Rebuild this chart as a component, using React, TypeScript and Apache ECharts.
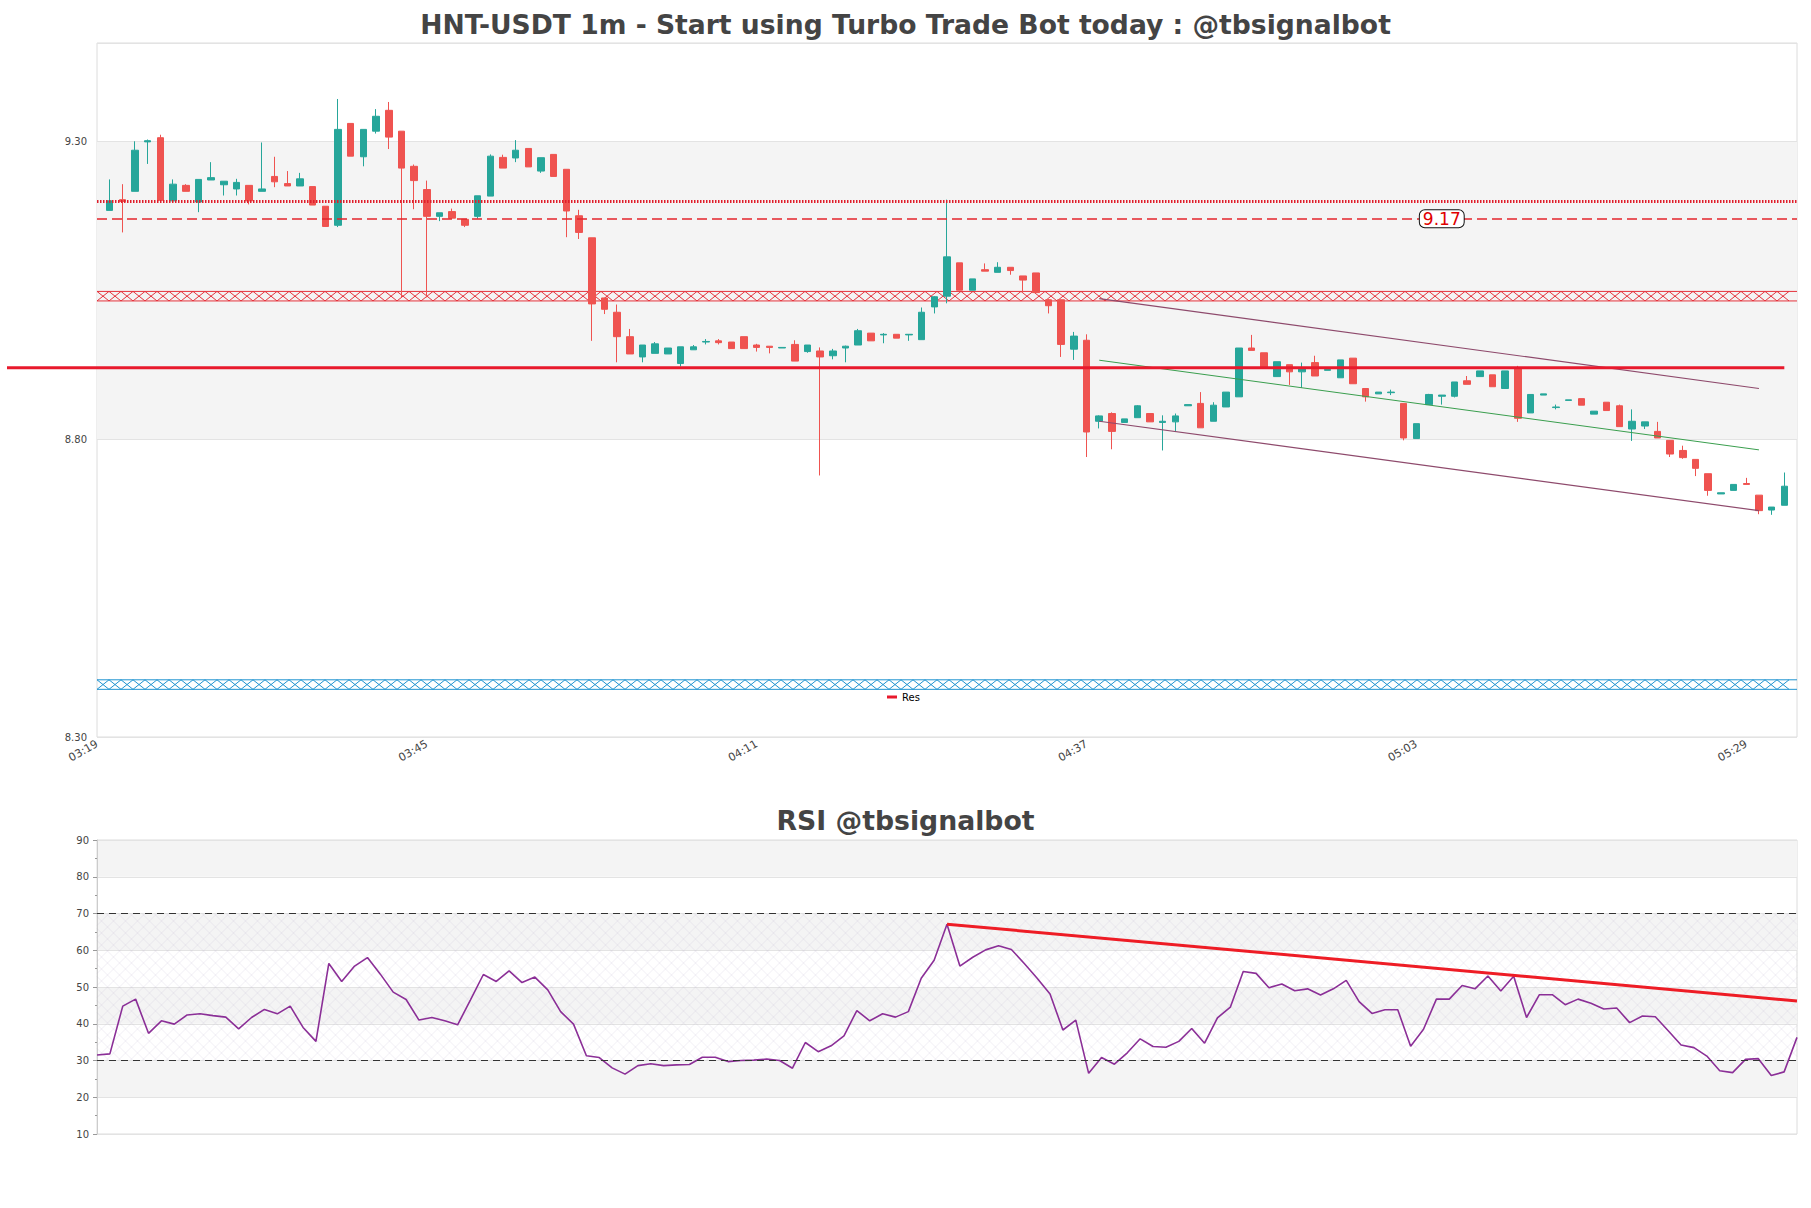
import React, { useEffect, useRef } from "react";
import * as echarts from "echarts";

// ---------- texts ----------
const mainTitle = "HNT-USDT 1m - Start using Turbo Trade Bot today : @tbsignalbot";
const rsiTitle = "RSI @tbsignalbot";
const legendName = "Res";

// ---------- categories ----------
function minuteLabels(h: number, m: number, count: number): string[] {
  const out: string[] = [];
  for (let k = 0; k < count; k++) {
    const t = h * 60 + m + k;
    const hh = Math.floor(t / 60);
    const mm = t % 60;
    out.push(String(hh).padStart(2, "0") + ":" + String(mm).padStart(2, "0"));
  }
  return out;
}
const axisTimes = minuteLabels(3, 19, 135); // 03:19 .. 05:33 (axis span)
const candleTimes = axisTimes.slice(1, 134); // 03:20 .. 05:32 (candles / RSI)
const xTickLabels = ["03:19", "03:45", "04:11", "04:37", "05:03", "05:29"];
const priceTickLabels = [8.3, 8.8, 9.3];

// ---------- candles (03:20 .. 05:32) ----------
const opens = [
  9.184, 9.202, 9.216, 9.299, 9.306, 9.2, 9.226, 9.198, 9.235, 9.227,
  9.22, 9.226, 9.216, 9.241, 9.229, 9.225, 9.224, 9.191, 9.159, 9.33,
  9.274, 9.317, 9.352, 9.317, 9.258, 9.219, 9.174, 9.182, 9.169, 9.174,
  9.208, 9.273, 9.272, 9.288, 9.25, 9.278, 9.253, 9.175, 9.138, 9.037,
  9.013, 8.972, 8.938, 8.944, 8.943, 8.927, 8.95, 8.963, 8.965, 8.963,
  8.972, 8.958, 8.956, 8.953, 8.959, 8.947, 8.948, 8.94, 8.953, 8.958,
  8.978, 8.975, 8.976, 8.975, 8.967, 9.022, 9.04, 9.096, 9.05, 9.0845,
  9.08, 9.0885, 9.074, 9.079, 9.034, 9.034, 8.951, 8.966, 8.83, 8.843,
  8.828, 8.836, 8.843, 8.828, 8.829, 8.856, 8.86, 8.83, 8.854, 8.871,
  8.953, 8.945, 8.905, 8.925, 8.913, 8.9285, 8.9155, 8.903, 8.936, 8.885,
  8.876, 8.878, 8.86, 8.801, 8.858, 8.872, 8.872, 8.898, 8.905, 8.908,
  8.885, 8.92, 8.844, 8.874, 8.853, 8.865, 8.868, 8.842, 8.862, 8.856,
  8.817, 8.822, 8.813, 8.798, 8.781, 8.766, 8.742, 8.708, 8.714, 8.7255,
  8.706, 8.681, 8.689,
];
const highs = [
  9.236, 9.228, 9.3, 9.303, 9.311, 9.236, 9.228, 9.236, 9.265, 9.233,
  9.237, 9.226, 9.298, 9.274, 9.25, 9.247, 9.224, 9.191, 9.371, 9.33,
  9.32, 9.354, 9.366, 9.317, 9.261, 9.234, 9.18, 9.187, 9.169, 9.2085,
  9.278, 9.2775, 9.302, 9.288, 9.2725, 9.278, 9.253, 9.185, 9.138, 9.037,
  9.026, 8.985, 8.958, 8.963, 8.953, 8.955, 8.958, 8.968, 8.968, 8.963,
  8.972, 8.96, 8.956, 8.954, 8.966, 8.958, 8.954, 8.9515, 8.957, 8.985,
  8.978, 8.978, 8.976, 8.976, 9.021, 9.04, 9.202, 9.096, 9.069, 9.095,
  9.097, 9.0885, 9.074, 9.079, 9.035, 9.034, 8.98, 8.976, 8.84, 8.845,
  8.834, 8.857, 8.843, 8.84, 8.843, 8.858, 8.879, 8.862, 8.879, 8.953,
  8.975, 8.945, 8.93, 8.925, 8.9285, 8.94, 8.917, 8.933, 8.936, 8.885,
  8.879, 8.883, 8.86, 8.826, 8.876, 8.874, 8.896, 8.906, 8.9145, 8.908,
  8.9145, 8.923, 8.875, 8.876, 8.858, 8.866, 8.868, 8.847, 8.862, 8.858,
  8.85, 8.829, 8.829, 8.798, 8.789, 8.766, 8.742, 8.71, 8.724, 8.735,
  8.706, 8.686, 8.744,
];
const lows = [
  9.184, 9.147, 9.216, 9.262, 9.2, 9.198, 9.216, 9.181, 9.235, 9.209,
  9.209, 9.194, 9.216, 9.223, 9.225, 9.225, 9.193, 9.157, 9.156, 9.275,
  9.258, 9.313, 9.287, 9.038, 9.186, 9.038, 9.166, 9.171, 9.156, 9.17,
  9.208, 9.255, 9.265, 9.257, 9.247, 9.241, 9.139, 9.136, 8.965, 9.01,
  8.929, 8.943, 8.929, 8.944, 8.943, 8.922, 8.95, 8.959, 8.959, 8.952,
  8.952, 8.947, 8.944, 8.953, 8.931, 8.945, 8.739, 8.934, 8.929, 8.958,
  8.965, 8.961, 8.9695, 8.965, 8.967, 9.011, 9.028, 9.05, 9.05, 9.082,
  9.08, 9.076, 9.046, 9.046, 9.011, 8.938, 8.933, 8.77, 8.818, 8.783,
  8.828, 8.836, 8.829, 8.781, 8.813, 8.856, 8.819, 8.83, 8.854, 8.871,
  8.949, 8.921, 8.905, 8.891, 8.886, 8.906, 8.9155, 8.903, 8.893, 8.863,
  8.876, 8.874, 8.798, 8.801, 8.858, 8.858, 8.87, 8.892, 8.905, 8.888,
  8.885, 8.829, 8.844, 8.874, 8.85, 8.865, 8.857, 8.842, 8.848, 8.821,
  8.797, 8.817, 8.802, 8.77, 8.767, 8.738, 8.705, 8.708, 8.714, 8.724,
  8.674, 8.673, 8.689,
];
const closes = [
  9.2, 9.199, 9.285, 9.301, 9.201, 9.228, 9.216, 9.236, 9.239, 9.233,
  9.231, 9.2, 9.22, 9.232, 9.225, 9.237, 9.193, 9.157, 9.32, 9.275,
  9.32, 9.342, 9.307, 9.255, 9.234, 9.174, 9.18, 9.171, 9.159, 9.2085,
  9.275, 9.255, 9.285, 9.257, 9.2725, 9.241, 9.183, 9.147, 9.027, 9.018,
  8.972, 8.943, 8.958, 8.96, 8.953, 8.955, 8.955, 8.964, 8.962, 8.952,
  8.952, 8.954, 8.954, 8.954, 8.931, 8.958, 8.938, 8.948, 8.956, 8.982,
  8.965, 8.976, 8.9695, 8.976, 9.013, 9.039, 9.106, 9.05, 9.069, 9.082,
  9.0885, 9.083, 9.067, 9.046, 9.024, 8.959, 8.973, 8.812, 8.839, 8.813,
  8.834, 8.856, 8.829, 8.83, 8.839, 8.858, 8.819, 8.857, 8.879, 8.953,
  8.949, 8.921, 8.93, 8.913, 8.919, 8.906, 8.917, 8.933, 8.893, 8.871,
  8.879, 8.879, 8.802, 8.826, 8.875, 8.874, 8.896, 8.892, 8.9145, 8.888,
  8.9145, 8.835, 8.875, 8.876, 8.854, 8.866, 8.857, 8.847, 8.848, 8.821,
  8.83, 8.829, 8.802, 8.775, 8.769, 8.751, 8.714, 8.71, 8.724, 8.724,
  8.68, 8.686, 8.721,
];

// ---------- RSI (03:20 .. 05:32) ----------
const rsiValues = [
  31.5, 31.8, 44.8, 46.7, 37.4, 40.8, 39.9, 42.4, 42.7, 42.2,
  41.8, 38.6, 41.7, 43.9, 42.7, 44.8, 39.0, 35.2, 56.4, 51.5,
  55.7, 58.0, 53.5, 48.6, 46.6, 41.0, 41.7, 40.8, 39.7, 46.5,
  53.4, 51.5, 54.4, 51.2, 52.7, 49.2, 43.3, 39.9, 31.3, 30.8,
  28.0, 26.3, 28.6, 29.1, 28.6, 28.8, 28.9, 30.9, 30.9, 29.7,
  30.0, 30.1, 30.4, 30.0, 27.9, 34.9, 32.4, 34.0, 36.7, 43.6,
  40.8, 42.7, 41.8, 43.3, 52.4, 57.3, 67.1, 55.7, 58.1, 60.1,
  61.2, 60.2, 56.4, 52.4, 48.1, 38.3, 41.0, 26.5, 30.8, 29.0,
  32.1, 35.9, 33.8, 33.6, 35.2, 38.7, 34.7, 41.6, 44.5, 54.2,
  53.7, 49.8, 50.8, 49.0, 49.5, 47.8, 49.5, 51.8, 46.0, 42.8,
  43.8, 43.8, 33.9, 38.5, 46.7, 46.7, 50.4, 49.5, 53.0, 48.9,
  52.9, 41.7, 47.9, 47.9, 45.2, 46.7, 45.6, 44.0, 44.3, 40.3,
  42.1, 41.9, 38.1, 34.2, 33.5, 31.2, 27.2, 26.7, 30.3, 30.5,
  25.9, 26.9, 36.3,
];

// ---------- levels & lines ----------
const resLevel = 8.92;
const dottedLevel = 9.2;
const dashedLevel = 9.17;
const dashedLabel = "9.17";
const dashedLabelTime = "05:05";
const redZone = [9.032, 9.048];
const blueZone = [8.38, 8.396];
const channelTimes = ["04:38", "05:30"];
const channelUpper = [9.036, 8.885];
const channelMid = [8.9325, 8.782];
const channelLower = [8.83, 8.68];
const rsiLevels = [70, 30];
const rsiZone = [30, 70];
const rsiTrendTimes = ["04:26", "05:32"];
const rsiTrendValues = [67.1, 46.2];

// ---------- styling ----------
const FONT = "DejaVu Sans";
const UP = "#26a69a";
const DOWN = "#ef5350";
const RES_COLOR = "#e8192c";
const resLeftPx = 7;

function bandRenderer(color: string, step: number) {
  return (params: any, api: any) => {
    const cs = params.coordSys;
    const yTop = api.coord([0, api.value(2)])[1];
    const yBot = api.coord([0, api.value(1)])[1];
    const x0 = cs.x;
    const x1 = cs.x + cs.width;
    let d = `M${x0} ${yTop}L${x1} ${yTop}M${x0} ${yBot}L${x1} ${yBot}`;
    for (let x = x0; x + step <= x1 + 0.01; x += step) {
      d += `M${x} ${yTop}L${x + step} ${yBot}M${x + step} ${yTop}L${x} ${yBot}`;
    }
    return {
      type: "path",
      shape: { pathData: d },
      style: { stroke: color, fill: "none", lineWidth: 1 },
      silent: true,
    };
  };
}

function hatchRenderer(color: string, sp: number) {
  return (params: any, api: any) => {
    const cs = params.coordSys;
    const yT = api.coord([0, api.value(2)])[1];
    const yB = api.coord([0, api.value(1)])[1];
    const x0 = cs.x;
    const x1 = cs.x + cs.width;
    const H = yB - yT;
    let d = "";
    for (let xs = x0 - H; xs < x1; xs += sp) {
      const t0 = Math.max(0, x0 - xs);
      const t1 = Math.min(H, x1 - xs);
      if (t1 > t0) d += `M${xs + t0} ${yT + t0}L${xs + t1} ${yT + t1}`;
    }
    for (let xs = x0; xs < x1 + H; xs += sp) {
      const t0 = Math.max(0, xs - x1);
      const t1 = Math.min(H, xs - x0);
      if (t1 > t0) d += `M${xs - t0} ${yT + t0}L${xs - t1} ${yT + t1}`;
    }
    return {
      type: "path",
      shape: { pathData: d },
      style: { stroke: color, fill: "none", lineWidth: 0.6 },
      silent: true,
    };
  };
}

function buildOption() {
  const candleData = axisTimes.map((t) => {
    const i = candleTimes.indexOf(t);
    if (i < 0) return "-";
    return [opens[i], closes[i], lows[i], highs[i]];
  });
  const resEndIndex = axisTimes.indexOf(candleTimes[candleTimes.length - 1]);

  return {
    animation: false,
    backgroundColor: "#ffffff",
    title: [
      {
        text: mainTitle,
        left: "center",
        top: 6,
        textStyle: { fontFamily: FONT, fontSize: 26.6, fontWeight: "bold", color: "#444444" },
      },
      {
        text: rsiTitle,
        left: "center",
        top: 802,
        textStyle: { fontFamily: FONT, fontSize: 26.7, fontWeight: "bold", color: "#444444" },
      },
    ],
    legend: {
      data: [{ name: legendName, icon: "rect" }],
      left: 882,
      top: 687,
      itemWidth: 10,
      itemHeight: 3,
      itemGap: 6,
      textStyle: { fontFamily: FONT, fontSize: 10, color: "#000" },
    },
    grid: [
      { left: 97, right: 14, top: 43, height: 694, show: true, borderColor: "#dcdcdc", borderWidth: 1, backgroundColor: "transparent" },
      { left: 97, right: 14, top: 840, height: 294, show: true, borderColor: "#dcdcdc", borderWidth: 1, backgroundColor: "transparent" },
    ],
    xAxis: [
      {
        type: "category",
        gridIndex: 0,
        data: axisTimes,
        boundaryGap: false,
        axisLine: { show: false },
        axisTick: { show: false },
        splitLine: { show: false },
        axisLabel: {
          interval: (_i: number, v: string) => xTickLabels.includes(v),
          rotate: 30,
          fontFamily: FONT,
          fontSize: 11,
          color: "#444",
          margin: 6,
        },
      },
      {
        type: "category",
        gridIndex: 1,
        data: candleTimes,
        boundaryGap: false,
        axisLine: { show: false },
        axisTick: { show: false },
        axisLabel: { show: false },
        splitLine: { show: false },
      },
    ],
    yAxis: [
      {
        type: "value",
        gridIndex: 0,
        min: 8.3,
        max: 9.465,
        interval: 0.5,
        axisLine: { show: false },
        axisTick: { show: false },
        axisLabel: {
          fontFamily: FONT,
          fontSize: 10,
          color: "#444",
          margin: 10,
          formatter: (v: number) =>
            priceTickLabels.some((t) => Math.abs(t - v) < 1e-6) ? v.toFixed(2) : "",
        },
        splitLine: { show: true, lineStyle: { color: "#e3e3e3", width: 1 } },
        splitArea: { show: true, areaStyle: { color: ["rgba(255,255,255,0)", "#f4f4f4"] } },
      },
      {
        type: "value",
        gridIndex: 1,
        min: 10,
        max: 90,
        interval: 10,
        axisLine: { show: true, lineStyle: { color: "#cccccc" } },
        axisTick: { show: true, length: 4, lineStyle: { color: "#999" } },
        minorTick: { show: true, splitNumber: 2, length: 2, lineStyle: { color: "#999" } },
        axisLabel: { fontFamily: FONT, fontSize: 10, color: "#444", margin: 8 },
        splitLine: { show: true, lineStyle: { color: "#e3e3e3", width: 1 } },
        splitArea: { show: true, areaStyle: { color: ["rgba(255,255,255,0)", "#f4f4f4"] } },
      },
    ],
    series: [
      {
        type: "custom",
        name: "zoneRed",
        xAxisIndex: 0,
        yAxisIndex: 0,
        z: 1,
        silent: true,
        clip: false,
        data: [[0, redZone[0], redZone[1]]],
        renderItem: bandRenderer("#e5323c", 12),
      },
      {
        type: "custom",
        name: "zoneBlue",
        xAxisIndex: 0,
        yAxisIndex: 0,
        z: 1,
        silent: true,
        clip: false,
        data: [[0, blueZone[0], blueZone[1]]],
        renderItem: bandRenderer("#1f93d0", 12),
      },
      {
        type: "candlestick",
        name: "HNT-USDT",
        xAxisIndex: 0,
        yAxisIndex: 0,
        z: 3,
        barWidth: 7,
        data: candleData,
        itemStyle: { color: UP, color0: DOWN, borderColor: UP, borderColor0: DOWN, borderWidth: 1 },
        markLine: {
          silent: true,
          symbol: ["none", "none"],
          label: { show: false },
          data: [
            { yAxis: dottedLevel, lineStyle: { color: "#e01e2b", width: 3, type: [1.5, 1.5] } },
            { yAxis: dashedLevel, lineStyle: { color: "#e3242b", width: 1.5, type: [10, 5] } },
            [
              { coord: [channelTimes[0], channelUpper[0]], lineStyle: { color: "#8e4a6c", width: 1.2, type: "solid" } },
              { coord: [channelTimes[1], channelUpper[1]] },
            ],
            [
              { coord: [channelTimes[0], channelMid[0]], lineStyle: { color: "#3a9e4e", width: 1, type: "solid" } },
              { coord: [channelTimes[1], channelMid[1]] },
            ],
            [
              { coord: [channelTimes[0], channelLower[0]], lineStyle: { color: "#8e4a6c", width: 1.2, type: "solid" } },
              { coord: [channelTimes[1], channelLower[1]] },
            ],
          ],
        },
        markPoint: {
          silent: true,
          symbol: "circle",
          symbolSize: 1,
          itemStyle: { color: "rgba(0,0,0,0)" },
          label: {
            show: true,
            position: "inside",
            formatter: dashedLabel,
            fontFamily: FONT,
            fontSize: 17,
            color: "#e00000",
            backgroundColor: "#ffffff",
            borderColor: "#111111",
            borderWidth: 1,
            borderRadius: 5,
            padding: [0, 3, 0, 3],
          },
          data: [{ coord: [dashedLabelTime, dashedLevel] }],
        },
      },
      {
        type: "custom",
        name: legendName,
        xAxisIndex: 0,
        yAxisIndex: 0,
        z: 6,
        clip: false,
        silent: true,
        itemStyle: { color: RES_COLOR },
        data: [[0, resLevel, resEndIndex]],
        renderItem: (_params: any, api: any) => {
          const p = api.coord([api.value(2), api.value(1)]);
          return {
            type: "line",
            shape: { x1: resLeftPx, y1: p[1], x2: p[0], y2: p[1] },
            style: { stroke: RES_COLOR, lineWidth: 3 },
          };
        },
      },
      {
        type: "custom",
        name: "rsiZone",
        xAxisIndex: 1,
        yAxisIndex: 1,
        z: 1,
        silent: true,
        clip: false,
        data: [[0, rsiZone[0], rsiZone[1]]],
        renderItem: hatchRenderer("rgba(180,165,200,0.32)", 12),
      },
      {
        type: "line",
        name: "RSI",
        xAxisIndex: 1,
        yAxisIndex: 1,
        z: 3,
        data: rsiValues,
        showSymbol: false,
        symbol: "none",
        lineStyle: { color: "#8b2f97", width: 1.6 },
        itemStyle: { color: "#8b2f97" },
        markLine: {
          silent: true,
          symbol: ["none", "none"],
          label: { show: false },
          data: [
            { yAxis: rsiLevels[0], lineStyle: { color: "#333", width: 1.2, type: [7, 5] } },
            { yAxis: rsiLevels[1], lineStyle: { color: "#333", width: 1.2, type: [7, 5] } },
            [
              { coord: [rsiTrendTimes[0], rsiTrendValues[0]], lineStyle: { color: "#ee1c25", width: 3, type: "solid" } },
              { coord: [rsiTrendTimes[1], rsiTrendValues[1]] },
            ],
          ],
        },
      },
    ],
  };
}

export default function App() {
  const ref = useRef<HTMLDivElement>(null);
  useEffect(() => {
    if (!ref.current) return;
    const chart = echarts.init(ref.current, null, { renderer: "svg" });
    chart.setOption(buildOption() as any);
    return () => chart.dispose();
  }, []);
  return (
    <div
      ref={ref}
      style={{ position: "fixed", left: 0, top: 0, width: 1811, height: 1208, background: "#fff" }}
    />
  );
}
